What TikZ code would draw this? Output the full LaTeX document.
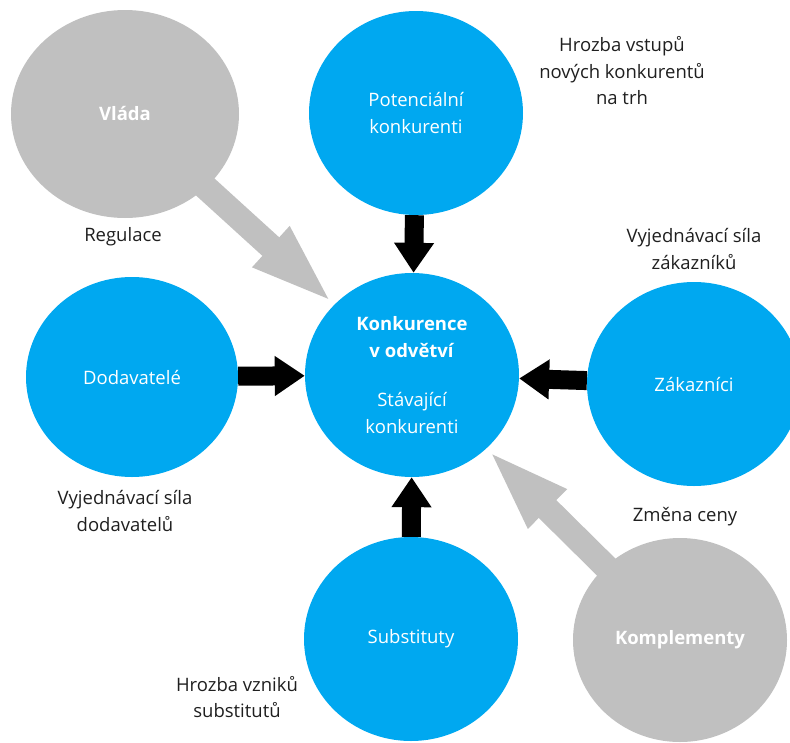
\documentclass[tikz,border=0pt]{standalone}
\usepackage{fontspec}
\setmainfont{Open Sans}
\usetikzlibrary{shapes.geometric, arrows.meta}

\definecolor{forceblue}{RGB}{0,168,240}
\definecolor{forcegray}{RGB}{192,192,192}

\begin{document}
\begin{tikzpicture}[x=1pt, y=-1pt, font=\fontsize{18.5}{26.5}\selectfont]

		\useasboundingbox (0,0) rectangle (790,742);

		% Define custom styles for the forces
		\tikzstyle{force} = [ellipse, fill=forceblue, text=white, inner sep=0pt,
		minimum width=214pt, minimum height=204pt, align=center]
		\tikzstyle{outer} = [force, fill=forcegray, font=\fontsize{18.5}{26.5}\selectfont\bfseries]
		\tikzstyle{note} = [align=center, text=black!88]
		\tikzstyle{pushblack} = [line width=19pt, -{Triangle[width=38pt, length=30pt]}]
		\tikzstyle{pushgray} = [line width=25pt, forcegray, shorten <=-4pt,
		-{Triangle[width=48pt, length=86pt]}]

		% Circles
		\node[outer, minimum width=228pt, minimum height=208pt] (vlada) at (125,114) {Vláda};
		\node[force] (potencialni) at (416,113) {Potenciální\\konkurenti};
		\node[force] (konkurence) at (412,375)
		{\textbf{Konkurence}\\\textbf{v odvětví}\\[23pt]Stávající\\konkurenti};
		\node[force, minimum width=212pt, minimum height=200pt] (dodavatele) at (132,377) {Dodavatelé};
		\node[force] (zakaznici) at (694,384) {Zákazníci};
		\node[force] (substituty) at (411,639) {Substituty};
		\node[outer] (komplementy) at (680,640) {Komplementy};

		% Labels
		\node[note] (hrozbavstup) at (622,71) {Hrozba vstupů\\nových konkurentů\\na trh};
		\node[note] (regulace) at (123,237) {Regulace};
		\node[note] (silazak) at (694,249) {Vyjednávací síla\\zákazníků};
		\node[note] (siladod) at (125,511) {Vyjednávací síla\\dodavatelů};
		\node[note] (zmena) at (685,517) {Změna ceny};
		\node[note] (hrozbasub) at (237,697) {Hrozba vzniků\\substitutů};

		% Arrows
		\draw[pushblack] (potencialni) -- (konkurence);
		\draw[pushblack] (dodavatele) -- (konkurence);
		\draw[pushblack] (zakaznici) -- (konkurence);
		\draw[pushblack] (substituty) -- (konkurence);
		\draw[pushgray] (vlada) -- (konkurence);
		\draw[pushgray] (komplementy) -- (konkurence);

	\end{tikzpicture}
\end{document}
